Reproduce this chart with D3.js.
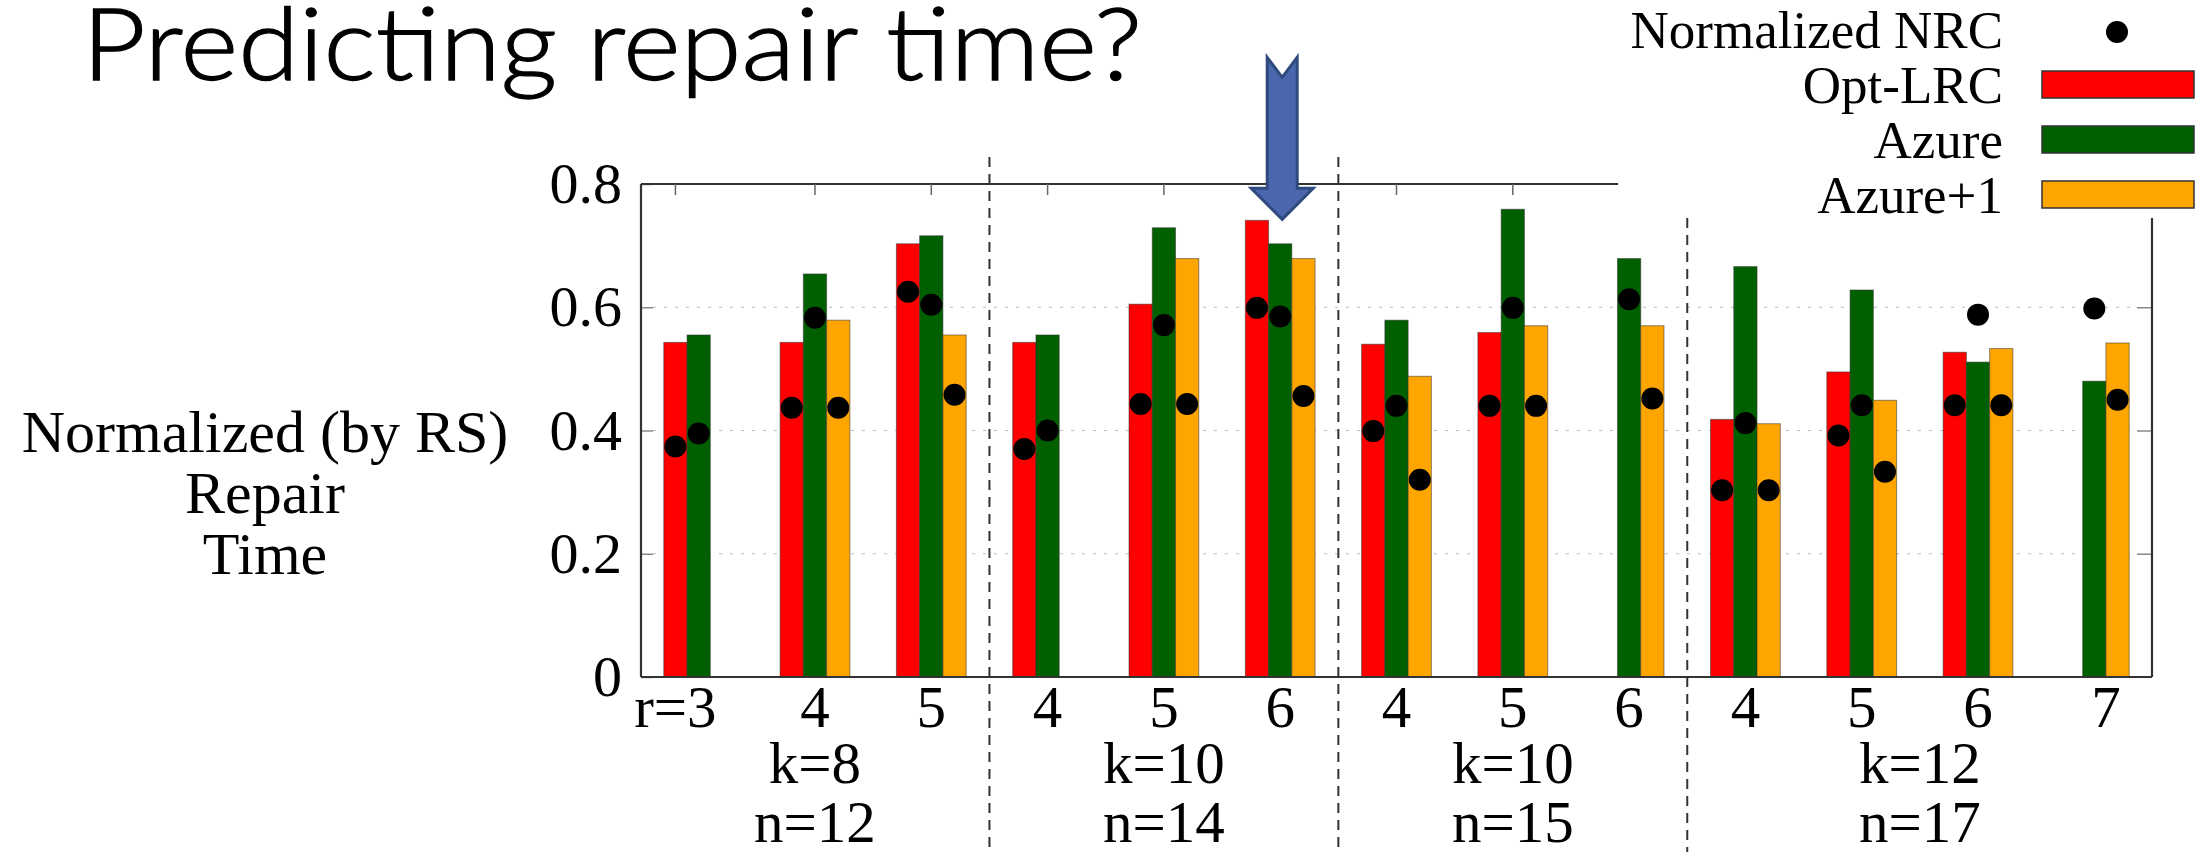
<!DOCTYPE html>
<html>
<head>
<meta charset="utf-8">
<script src="https://cdn.jsdelivr.net/npm/d3@7"></script>
<style>
  body { margin: 0; background: #fff; }
  svg { display: block; }
</style>
</head>
<body>
<div id="chart"></div>
<script>
// x tick labels (r), one per cluster
const rLabels = ["r=3", "4", "5", "4", "5", "6", "4", "5", "6", "4", "5", "6", "7"];
// (k, n) groups below the ticks
const groupK = ["k=8", "k=10", "k=10", "k=12"];
const groupN = ["n=12", "n=14", "n=15", "n=17"];
const groupSize = [3, 3, 3, 4];

// bar heights, null = no bar
const optLRC = [0.543, 0.543, 0.703, 0.543, 0.605, 0.741, 0.540, 0.559, null, 0.418, 0.495, 0.527, null];
const azure = [0.555, 0.654, 0.716, 0.555, 0.729, 0.703, 0.579, 0.759, 0.679, 0.666, 0.628, 0.511, 0.480];
const azurePlus1 = [null, 0.579, 0.555, null, 0.679, 0.679, 0.488, 0.570, 0.570, 0.411, 0.449, 0.533, 0.542];

// normalized NRC dots, one per bar slot
const nrcOptLRC = [0.374, 0.437, 0.625, 0.370, 0.443, 0.599, 0.399, 0.440, null, 0.303, 0.392, 0.441, null];
const nrcAzure = [0.395, 0.583, 0.604, 0.400, 0.571, 0.585, 0.440, 0.599, 0.613, 0.412, 0.441, 0.588, 0.598];
const nrcAzurePlus1 = [null, 0.437, 0.458, null, 0.443, 0.456, 0.320, 0.440, 0.452, 0.303, 0.333, 0.441, 0.450];

const yTicks = [0, 0.2, 0.4, 0.6, 0.8];

const seriesNames = ["Opt-LRC", "Azure", "Azure+1"];
const seriesColors = ["#ff0000", "#006000", "#ffa500"];

const width = 2211, height = 852;
const plot = { left: 641, right: 2152, top: 184, bottom: 677 };
const serif = "'Liberation Serif', 'Times New Roman', serif";

const svg = d3.select("#chart")
    .append("svg")
    .attr("width", width)
    .attr("height", height);

const x0 = d3.scaleBand()
    .domain(d3.range(rLabels.length))
    .range([plot.left, plot.right])
    .paddingInner(0.4)
    .paddingOuter(0.196);
const x1 = d3.scaleBand().domain(seriesNames).range([0, x0.bandwidth()]);
const y = d3.scaleLinear().domain([0, 0.8]).range([plot.bottom, plot.top]);

const bw = x1.bandwidth();
const greenCenter = i => x0(i) + x1("Azure") + bw / 2;
// where each r label sits inside its cluster (in bar widths)
const labelX = i => x0(i) + bw * (i === 0 ? 0.5 : i === rLabels.length - 1 ? 2 : 1.5);

// title (slide text)
svg.append("text")
    .attr("x", 82)
    .attr("y", 80)
    .attr("textLength", 1060)
    .attr("lengthAdjust", "spacingAndGlyphs")
    .attr("stroke", "#000")
    .attr("stroke-width", 1.3)
    .style("font-family", "Lato, 'Open Sans', sans-serif")
    .style("font-weight", 300)
    .style("font-size", "100px")
    .text("Predicting repair time?");

// grid
svg.append("g")
    .selectAll("line")
    .data([0.2, 0.4, 0.6])
    .join("line")
    .attr("x1", plot.left + 12)
    .attr("x2", plot.right - 15)
    .attr("y1", d => y(d))
    .attr("y2", d => y(d))
    .attr("stroke", "#bbb")
    .attr("stroke-width", 1.2)
    .attr("stroke-dasharray", "3,8");

// bars
const rows = [optLRC, azure, azurePlus1];
const nrcRows = [nrcOptLRC, nrcAzure, nrcAzurePlus1];
const barData = [];
const dotData = [];
rLabels.forEach((_, i) => {
    seriesNames.forEach((s, j) => {
        if (rows[j][i] != null) barData.push({ i, s, color: seriesColors[j], v: rows[j][i] });
        if (nrcRows[j][i] != null) dotData.push({ i, s, v: nrcRows[j][i] });
    });
});

svg.append("g")
    .selectAll("rect")
    .data(barData)
    .join("rect")
    .attr("x", d => x0(d.i) + x1(d.s))
    .attr("width", bw)
    .attr("y", d => y(d.v))
    .attr("height", d => y(0) - y(d.v))
    .attr("fill", d => d.color)
    .attr("stroke", "#333")
    .attr("stroke-opacity", 0.55)
    .attr("stroke-width", 1);

svg.append("g")
    .selectAll("circle")
    .data(dotData)
    .join("circle")
    .attr("cx", d => x0(d.i) + x1(d.s) + bw / 2)
    .attr("cy", d => y(d.v))
    .attr("r", 11)
    .attr("fill", "#000");

// y axis, ticks pointing inward
const yAxisG = svg.append("g")
    .attr("transform", `translate(${plot.left},0)`)
    .call(d3.axisLeft(y)
        .tickValues(yTicks)
        .tickSizeInner(-12)
        .tickSizeOuter(0)
        .tickPadding(19)
        .tickFormat(d => d === 0 ? "0" : d.toFixed(1)));
yAxisG.select(".domain").remove();
yAxisG.selectAll(".tick line").attr("stroke", "#888").attr("stroke-width", 1.5);
yAxisG.selectAll(".tick text")
    .style("font-family", serif)
    .style("font-size", "58px")
    .attr("fill", "#000");

const rightAxisG = svg.append("g")
    .attr("transform", `translate(${plot.right},0)`)
    .call(d3.axisRight(y).tickValues([0.2, 0.4, 0.6]).tickSizeInner(-15).tickSizeOuter(0).tickFormat(""));
rightAxisG.select(".domain").remove();
rightAxisG.selectAll(".tick line").attr("stroke", "#888").attr("stroke-width", 1.5);

// frame (top and right cut where the key sits)
const cut = { x: 1618, y: 218 };
const frame = [
    [plot.left, plot.top, plot.left, plot.bottom],
    [plot.left, plot.bottom, plot.right, plot.bottom],
    [plot.left, plot.top, cut.x, plot.top],
    [plot.right, cut.y, plot.right, plot.bottom]
];
svg.append("g")
    .selectAll("line")
    .data(frame)
    .join("line")
    .attr("x1", d => d[0]).attr("y1", d => d[1])
    .attr("x2", d => d[2]).attr("y2", d => d[3])
    .attr("stroke", "#333")
    .attr("stroke-width", 2.2);

// top ticks at the label positions
svg.append("g")
    .selectAll("line")
    .data(d3.range(rLabels.length).filter(i => labelX(i) < cut.x))
    .join("line")
    .attr("x1", labelX).attr("x2", labelX)
    .attr("y1", plot.top).attr("y2", plot.top + 11)
    .attr("stroke", "#666")
    .attr("stroke-width", 1.5);

// x labels
svg.append("g")
    .selectAll("text")
    .data(rLabels)
    .join("text")
    .attr("x", (d, i) => labelX(i))
    .attr("y", 727)
    .attr("text-anchor", "middle")
    .style("font-family", serif)
    .style("font-size", "59px")
    .text(d => d);

// groups: dividers and k/n labels
let start = 0;
const groups = groupSize.map((size, g) => {
    const idx = d3.range(start, start + size);
    start += size;
    return { g, idx, cx: d3.mean(idx, greenCenter) };
});

const dividerTop = [157, 157, 218];
svg.append("g")
    .selectAll("line")
    .data(groups.slice(1))
    .join("line")
    .attr("x1", d => (x0(d.idx[0] - 1) + x0.bandwidth() + x0(d.idx[0])) / 2)
    .attr("x2", d => (x0(d.idx[0] - 1) + x0.bandwidth() + x0(d.idx[0])) / 2)
    .attr("y1", (d, i) => dividerTop[i])
    .attr("y2", height)
    .attr("stroke", "#333")
    .attr("stroke-width", 2)
    .attr("stroke-dasharray", "10,7");

const groupText = svg.append("g")
    .style("font-family", serif)
    .style("font-size", "59px")
    .attr("text-anchor", "middle");
groupText.selectAll(".k")
    .data(groups)
    .join("text")
    .attr("class", "k")
    .attr("x", d => d.cx)
    .attr("y", 783)
    .text(d => groupK[d.g]);
groupText.selectAll(".n")
    .data(groups)
    .join("text")
    .attr("class", "n")
    .attr("x", d => d.cx)
    .attr("y", 842)
    .text(d => groupN[d.g]);

// y title
svg.append("text")
    .attr("text-anchor", "middle")
    .style("font-family", serif)
    .style("font-size", "60px")
    .selectAll("tspan")
    .data(["Normalized (by RS)", "Repair", "Time"])
    .join("tspan")
    .attr("x", 265)
    .attr("y", (d, i) => 452 + i * 61)
    .text(d => d);

// key
const keyItems = ["Normalized NRC"].concat(seriesNames);
const key = svg.append("g");
keyItems.forEach((name, i) => {
    const base = 48 + i * 55;
    key.append("text")
        .attr("x", 2003)
        .attr("y", base)
        .attr("text-anchor", "end")
        .style("font-family", serif)
        .style("font-size", "53px")
        .text(name);
    if (i === 0) {
        key.append("circle")
            .attr("cx", 2117)
            .attr("cy", base - 16)
            .attr("r", 11)
            .attr("fill", "#000");
    } else {
        key.append("rect")
            .attr("x", 2042)
            .attr("y", base - 32)
            .attr("width", 152)
            .attr("height", 27)
            .attr("fill", seriesColors[i - 1])
            .attr("stroke", "#333")
            .attr("stroke-width", 1.5);
    }
});

// blue callout arrow pointing at the k=10, n=14, r=6 cluster
const ax = greenCenter(5) + 2;
const tipY = y(optLRC[5]) - 1;
const arrow = [
    [ax - 15, tipY - 162],
    [ax, tipY - 142],
    [ax + 15, tipY - 162],
    [ax + 15, tipY - 31],
    [ax + 31, tipY - 31],
    [ax, tipY],
    [ax - 31, tipY - 31],
    [ax - 15, tipY - 31]
];
svg.append("path")
    .attr("d", d3.line()(arrow) + "Z")
    .attr("fill", "#4a67ad")
    .attr("stroke", "#2f4a7e")
    .attr("stroke-width", 3)
    .attr("stroke-linejoin", "miter");
</script>
</body>
</html>
